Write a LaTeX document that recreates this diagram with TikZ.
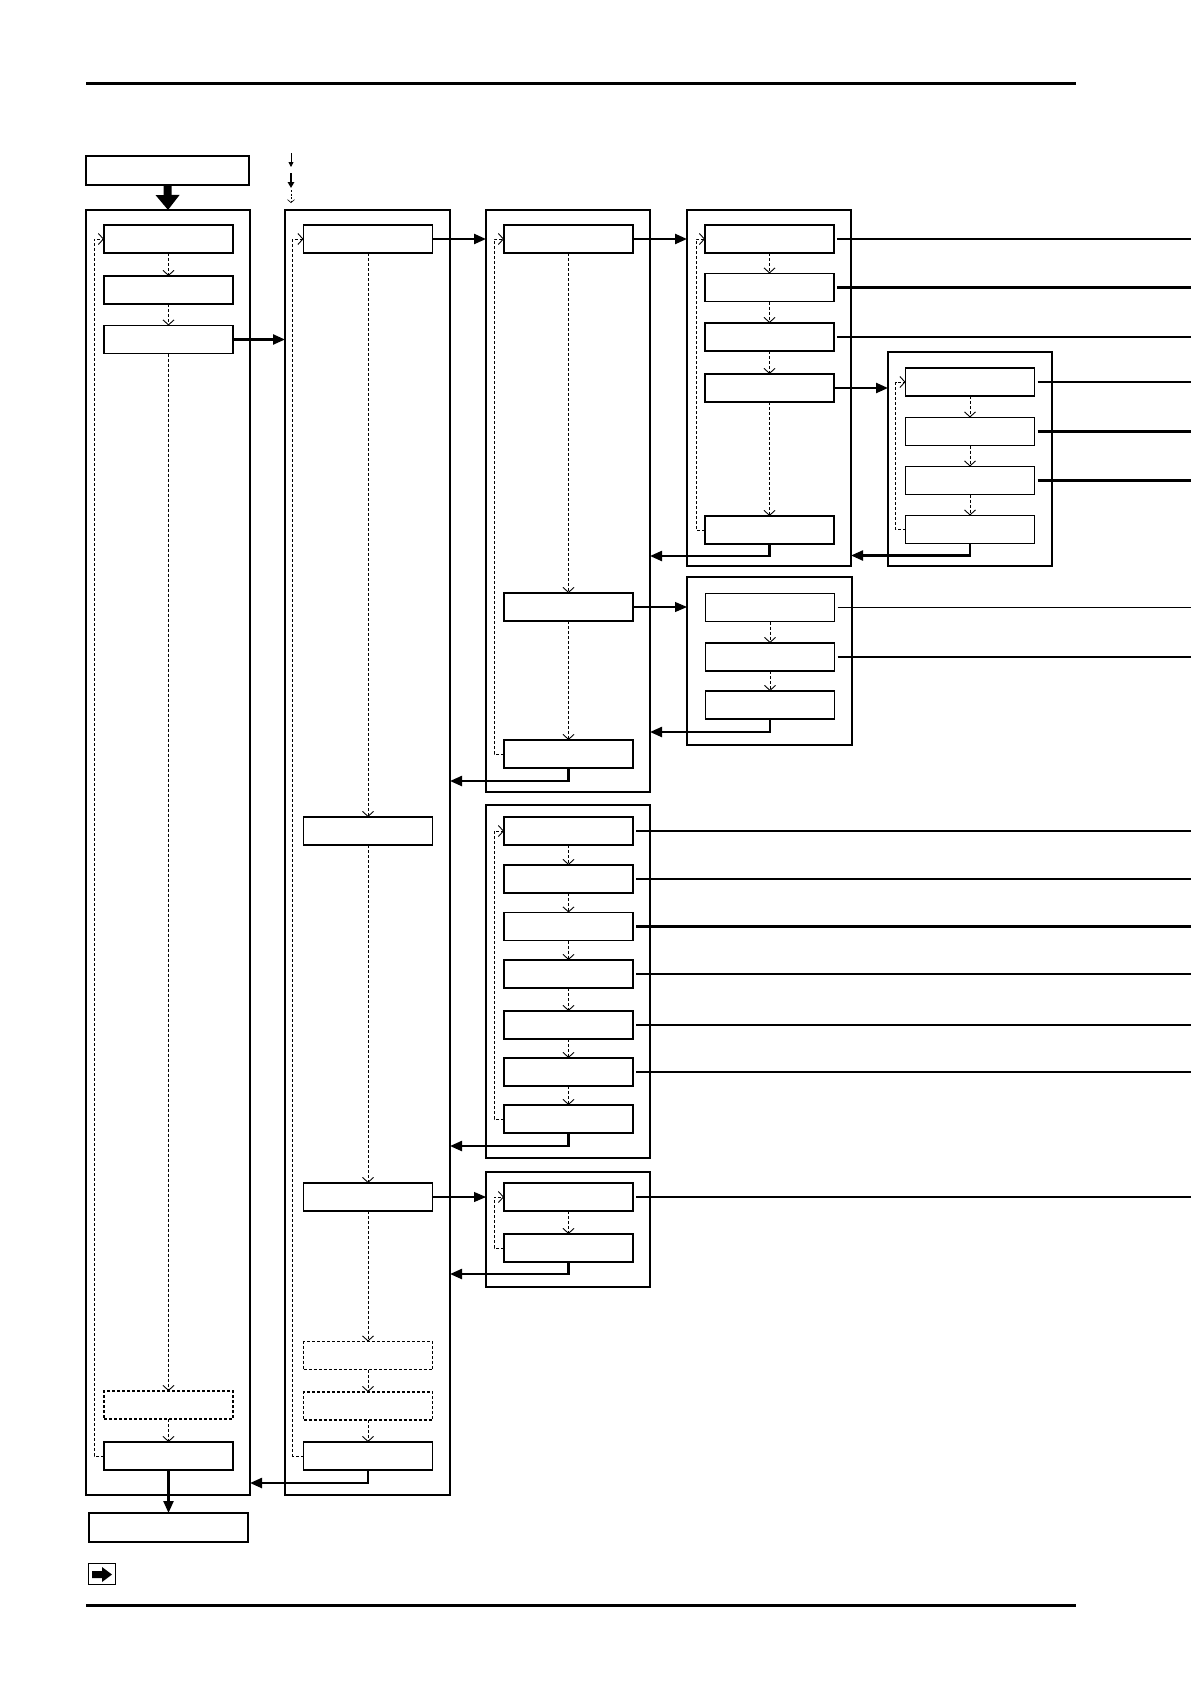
\documentclass[tikz,border=0pt]{standalone}
\usetikzlibrary{arrows.meta}
\begin{document}
\begin{tikzpicture}[x=1pt,y=-1pt,
  box/.style={draw,line width=1.1,minimum width=129,minimum height=28,inner sep=0,outer sep=0},
  dbox/.style={box,dash pattern=on 3pt off 2pt},
  frame/.style={draw,line width=2.6,inner sep=0,outer sep=0},
  dflow/.style={line width=0.9,dash pattern=on 3pt off 2pt,-{Straight Barb[length=5,width=11]}},
  tk/.style={line width=2.3,-{Triangle[length=12,width=10]}},
  tn/.style={line width=1.1,-{Triangle[length=12,width=10]}},
  tkline/.style={line width=2.3,shorten <=3},
  tnline/.style={line width=1.1,shorten <=3},
  ret/.style={line width=2.3,-{Triangle[length=12,width=10]}}]
\useasboundingbox (0,0) rectangle (1191,1684);
% rules
\coordinate (rA) at (86,83); \coordinate (rB) at (1076,83);
\coordinate (rC) at (86,1605); \coordinate (rD) at (1076,1605);
\draw[line width=3] (rA) -- (rB);
\draw[line width=3] (rC) -- (rD);
\coordinate (RE) at (1191,0);
% legend
\coordinate (l1a) at (291,153); \coordinate (l1b) at (291,167);
\coordinate (l2a) at (291,173); \coordinate (l2b) at (291,188);
\coordinate (l3a) at (291,190); \coordinate (l3b) at (291,203);
\draw[line width=0.8,-{Triangle[length=5,width=5]}] (l1a) -- (l1b);
\draw[line width=2.5,-{Triangle[length=6,width=6.5]}] (l2a) -- (l2b);
\draw[line width=0.6,dash pattern=on 2pt off 1.5pt,-{Straight Barb[length=3,width=7]}] (l3a) -- (l3b);
% top / bottom boxes
\node[box,minimum width=163,minimum height=29] (top) at (167.5,170.5) {};
\node[box,minimum width=159,minimum height=29] (out) at (168.5,1527.5) {};
% frames
\node[frame,minimum width=164,minimum height=1285] (F1) at (168,852.5) {};
\node[frame,minimum width=165,minimum height=1285] (F2) at (367.5,852.5) {};
\node[frame,minimum width=164,minimum height=582] (F3) at (568,501) {};
\node[frame,minimum width=164,minimum height=353] (F3b) at (568,981.5) {};
\node[frame,minimum width=164,minimum height=115] (F3c) at (568,1229.5) {};
\node[frame,minimum width=164,minimum height=356] (F4) at (769,388) {};
\node[frame,minimum width=165,minimum height=168] (F4b) at (769.5,661) {};
\node[frame,minimum width=164,minimum height=214] (F5) at (970,459) {};
% column 1
\node[box] (c1a) at (168.5,239) {};
\node[box] (c1b) at (168.5,290) {};
\node[box] (c1c) at (168.5,339.5) {};
\node[dbox] (c1d) at (168.5,1405) {};
\node[box] (c1e) at (168.5,1456) {};
% column 2
\node[box] (c2a) at (368,239) {};
\node[box] (c2b) at (368,831) {};
\node[box] (c2c) at (368,1197) {};
\node[dbox] (c2d) at (368,1355.5) {};
\node[dbox] (c2e) at (368,1406) {};
\node[box] (c2f) at (368,1456) {};
% column 3
\node[box] (c3a) at (568.5,239) {};
\node[box] (c3b) at (568.5,607) {};
\node[box] (c3c) at (568.5,754) {};
% column 3b
\node[box] (d1) at (568.5,831) {};
\node[box] (d2) at (568.5,879) {};
\node[box] (d3) at (568.5,926.5) {};
\node[box] (d4) at (568.5,974) {};
\node[box] (d5) at (568.5,1025) {};
\node[box] (d6) at (568.5,1072) {};
\node[box] (d7) at (568.5,1119) {};
% column 3c
\node[box] (e1) at (568.5,1197) {};
\node[box] (e2) at (568.5,1248) {};
% column 4
\node[box] (c4a) at (769.5,239) {};
\node[box] (c4b) at (769.5,287.5) {};
\node[box] (c4c) at (769.5,337) {};
\node[box] (c4d) at (769.5,388) {};
\node[box] (c4e) at (769.5,530) {};
% column 4b
\node[box] (g1) at (770,607.5) {};
\node[box] (g2) at (770,657) {};
\node[box] (g3) at (770,705) {};
% column 5
\node[box] (c5a) at (970,382) {};
\node[box] (c5b) at (970,431.5) {};
\node[box] (c5c) at (970,480.5) {};
\node[box] (c5d) at (970,529.5) {};
% icon
\node[draw,line width=1.6,minimum width=27,minimum height=21,inner sep=0] (icon) at (102,1574) {};
\fill (92,1571) -- (102,1571) -- (102,1567) -- (112,1574.5) -- (102,1582) -- (102,1578) -- (92,1578) -- cycle;
% big top arrow
\draw[line width=8,-{Triangle[length=15,width=23]}] (top.south) -- (F1.north);
% output arrow
\draw[line width=2.3,-{Triangle[length=12,width=10]}] (c1e.south) -- (out.north);
% dashed flows column 1
\draw[dflow] (c1a.south) -- (c1b.north);
\draw[dflow] (c1b.south) -- (c1c.north);
\draw[dflow] (c1c.south) -- (c1d.north);
\draw[dflow] (c1d.south) -- (c1e.north);
\draw[dflow] (c1e.west) -- ++(-10,0) |- (c1a.west);
% column 2
\draw[dflow] (c2a.south) -- (c2b.north);
\draw[dflow] (c2b.south) -- (c2c.north);
\draw[dflow] (c2c.south) -- (c2d.north);
\draw[dflow] (c2d.south) -- (c2e.north);
\draw[dflow] (c2e.south) -- (c2f.north);
\draw[dflow] (c2f.west) -- ++(-11,0) |- (c2a.west);
% column 3
\draw[dflow] (c3a.south) -- (c3b.north);
\draw[dflow] (c3b.south) -- (c3c.north);
\draw[dflow] (c3c.west) -- ++(-10,0) |- (c3a.west);
% column 3b
\draw[dflow] (d1.south) -- (d2.north);
\draw[dflow] (d2.south) -- (d3.north);
\draw[dflow] (d3.south) -- (d4.north);
\draw[dflow] (d4.south) -- (d5.north);
\draw[dflow] (d5.south) -- (d6.north);
\draw[dflow] (d6.south) -- (d7.north);
\draw[dflow] (d7.west) -- ++(-10,0) |- (d1.west);
% column 3c
\draw[dflow] (e1.south) -- (e2.north);
\draw[dflow] (e2.west) -- ++(-10,0) |- (e1.west);
% column 4
\draw[dflow] (c4a.south) -- (c4b.north);
\draw[dflow] (c4b.south) -- (c4c.north);
\draw[dflow] (c4c.south) -- (c4d.north);
\draw[dflow] (c4d.south) -- (c4e.north);
\draw[dflow] (c4e.west) -- ++(-9,0) |- (c4a.west);
% column 4b
\draw[dflow] (g1.south) -- (g2.north);
\draw[dflow] (g2.south) -- (g3.north);
% column 5
\draw[dflow] (c5a.south) -- (c5b.north);
\draw[dflow] (c5b.south) -- (c5c.north);
\draw[dflow] (c5c.south) -- (c5d.north);
\draw[dflow] (c5d.west) -- ++(-10,0) |- (c5a.west);
% forward arrows
\draw[tk] (c1c.east) -- (c1c.east -| F2.west);
\draw[tk] (c2a.east) -- (c2a.east -| F3.west);
\draw[tn] (c2c.east) -- (c2c.east -| F3c.west);
\draw[tk] (c3a.east) -- (c3a.east -| F4.west);
\draw[tn] (c3b.east) -- (c3b.east -| F4b.west);
\draw[tk] (c4d.east) -- (c4d.east -| F5.west);
% return arrows
\draw[ret] (c2f.south) -- ++(0,13) coordinate (r2) -- (r2 -| F1.east);
\draw[ret] (c3c.south) -- ++(0,13) coordinate (r3) -- (r3 -| F2.east);
\draw[ret] (d7.south) -- ++(0,13) coordinate (r3b) -- (r3b -| F2.east);
\draw[ret] (e2.south) -- ++(0,12) coordinate (r3c) -- (r3c -| F2.east);
\draw[ret] (c4e.south) -- ++(0,12) coordinate (r4) -- (r4 -| F3.east);
\draw[ret] (g3.south) -- ++(0,13) coordinate (r4b) -- (r4b -| F3.east);
\draw[ret] (c5d.south) -- ++(0,12) coordinate (r5) -- (r5 -| F4.east);
% lines to right edge
\draw[tkline] (c4a.east) -- (c4a.east -| RE);
\draw[tkline] (c4b.east) -- (c4b.east -| RE);
\draw[tkline] (c4c.east) -- (c4c.east -| RE);
\draw[tkline] (c5a.east) -- (c5a.east -| RE);
\draw[tkline] (c5b.east) -- (c5b.east -| RE);
\draw[tkline] (c5c.east) -- (c5c.east -| RE);
\draw[tnline] (g1.east) -- (g1.east -| RE);
\draw[tkline] (g2.east) -- (g2.east -| RE);
\draw[tkline] (d1.east) -- (d1.east -| RE);
\draw[tkline] (d2.east) -- (d2.east -| RE);
\draw[tkline] (d3.east) -- (d3.east -| RE);
\draw[tkline] (d4.east) -- (d4.east -| RE);
\draw[tnline] (d5.east) -- (d5.east -| RE);
\draw[tkline] (d6.east) -- (d6.east -| RE);
\draw[tnline] (e1.east) -- (e1.east -| RE);
\end{tikzpicture}
\end{document}
